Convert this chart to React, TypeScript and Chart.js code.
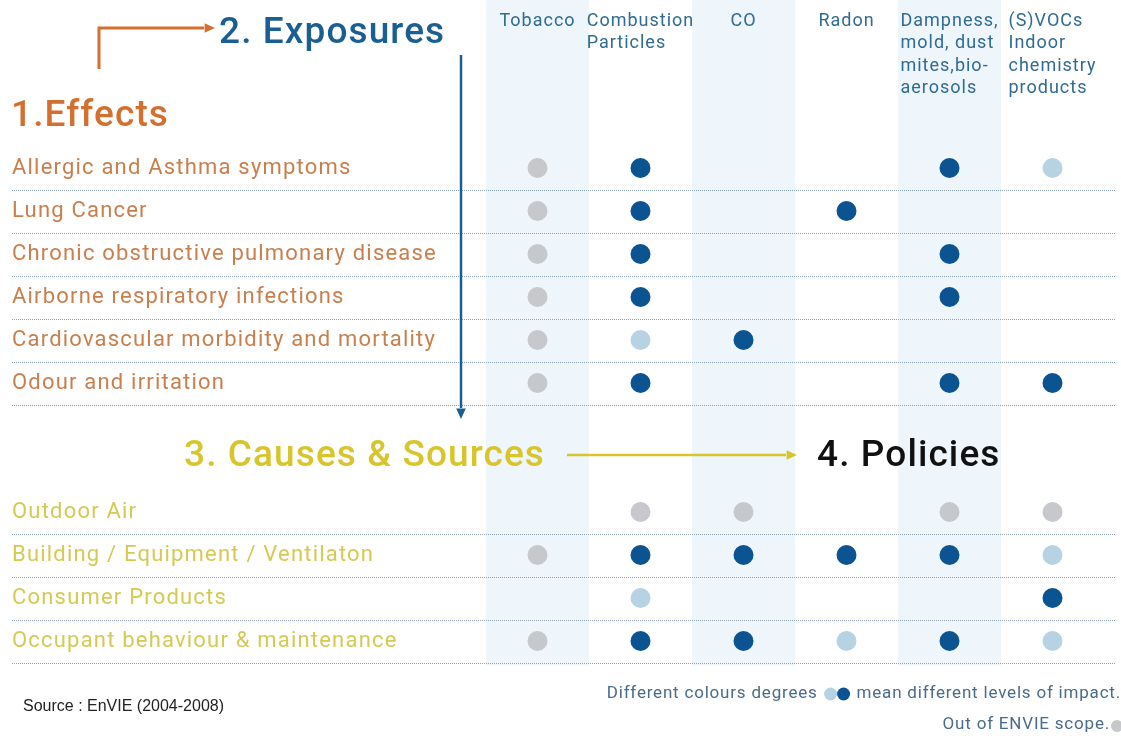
import React, { useEffect, useRef } from 'react';
import { Chart, registerables } from 'chart.js';

Chart.register(...registerables);

// ---------- data ----------
const exposureHeaders: string[][] = [
  ['Tobacco'],
  ['Combustion', 'Particles'],
  ['CO'],
  ['Radon'],
  ['Dampness,', 'mold, dust', 'mites,bio-', 'aerosols'],
  ['(S)VOCs', 'Indoor', 'chemistry', 'products'],
];
const exposureNames = exposureHeaders.map((l) => l.join(' '));

const effectLabels = [
  'Allergic and Asthma symptoms',
  'Lung Cancer',
  'Chronic obstructive pulmonary disease',
  'Airborne respiratory infections',
  'Cardiovascular morbidity and mortality',
  'Odour and irritation',
];
const causeLabels = [
  'Outdoor Air',
  'Building / Equipment / Ventilaton',
  'Consumer Products',
  'Occupant behaviour & maintenance',
];

// 0 = none, 1 = out of ENVIE scope, 2 = lower impact, 3 = higher impact
const effectLevels = [
  [1, 3, 0, 0, 3, 2],
  [1, 3, 0, 3, 0, 0],
  [1, 3, 0, 0, 3, 0],
  [1, 3, 0, 0, 3, 0],
  [1, 2, 3, 0, 0, 0],
  [1, 3, 0, 0, 3, 3],
];
const causeLevels = [
  [0, 1, 1, 0, 1, 1],
  [1, 3, 3, 3, 3, 2],
  [0, 2, 0, 0, 0, 3],
  [1, 3, 3, 2, 3, 2],
];

const spacerLabels = ['', ' '];
const rowLabels = [...effectLabels, ...spacerLabels, ...causeLabels];
const rowLevels = [...effectLevels, [], [], ...causeLevels];
const shadedColumns = [0, 2, 4];

// ---------- styles ----------
const C = {
  dark: '#0b5391',
  light: '#b7d2e3',
  gray: '#c7c8cc',
  band: '#eef5fb',
  sep: '#8ea3b7',
  orangeHead: '#d4702f',
  orangeLabel: '#c97f4d',
  blueHead: '#1b5e91',
  yellowHead: '#d8c52c',
  yellowLabel: '#d4ca52',
  headerBlue: '#2f6b93',
  footer: '#4a6b8a',
};
const FONT = 'Roboto';

function pointsFor(level: number) {
  const pts: { x: string; y: string }[] = [];
  rowLevels.forEach((row, r) =>
    row.forEach((v, c) => {
      if (v === level) pts.push({ x: exposureNames[c], y: rowLabels[r] });
    })
  );
  return pts;
}

function arrowHead(ctx: CanvasRenderingContext2D, x: number, y: number, dir: 'right' | 'down', size: number, color: string) {
  ctx.save();
  ctx.fillStyle = color;
  ctx.beginPath();
  if (dir === 'right') {
    ctx.moveTo(x, y);
    ctx.lineTo(x - size * 1.3, y - size * 0.6);
    ctx.lineTo(x - size * 1.3, y + size * 0.6);
  } else {
    ctx.moveTo(x, y);
    ctx.lineTo(x - size * 0.6, y - size * 1.3);
    ctx.lineTo(x + size * 0.6, y - size * 1.3);
  }
  ctx.closePath();
  ctx.fill();
  ctx.restore();
}

const infographicPlugin = {
  id: 'infographic',
  beforeDraw(chart: any) {
    const { ctx, chartArea } = chart;
    const xs = chart.scales.x;
    const ys = chart.scales.y;
    ctx.save();
    ctx.fillStyle = '#ffffff';
    ctx.fillRect(0, 0, chart.width, chart.height);
    const halfX = (xs.getPixelForValue(1) - xs.getPixelForValue(0)) / 2;
    ctx.fillStyle = C.band;
    shadedColumns.forEach((c) => {
      const cx = xs.getPixelForValue(c);
      ctx.fillRect(cx - halfX, 0, halfX * 2, chartArea.bottom + 3);
    });
    // dotted separators
    const halfY = (ys.getPixelForValue(1) - ys.getPixelForValue(0)) / 2;
    ctx.strokeStyle = C.sep;
    ctx.lineWidth = 1;
    ctx.setLineDash([1, 1]);
    rowLabels.forEach((lab, r) => {
      if (!lab.trim()) return;
      const y = Math.round(ys.getPixelForValue(r) + halfY) + 0.5;
      ctx.beginPath();
      ctx.moveTo(12, y);
      ctx.lineTo(1116, y);
      ctx.stroke();
    });
    ctx.restore();
    (ctx as any).letterSpacing = '1.2px';
  },
  afterDraw(chart: any) {
    const { ctx } = chart;
    const xs = chart.scales.x;
    ctx.save();
    ctx.textBaseline = 'alphabetic';
    ctx.textAlign = 'left';

    // headings
    (ctx as any).letterSpacing = '1.1px';
    ctx.font = `500 37px ${FONT}`;
    ctx.fillStyle = C.orangeHead;
    ctx.fillText('1.Effects', 11, 126);
    ctx.fillStyle = C.blueHead;
    ctx.fillText('2. Exposures', 219, 43);
    ctx.fillStyle = C.yellowHead;
    ctx.fillText('3. Causes & Sources', 184, 466);
    ctx.fillStyle = '#111111';
    ctx.fillText('4. Policies', 817, 466);

    // orange elbow arrow
    ctx.strokeStyle = C.orangeHead;
    ctx.lineWidth = 3;
    ctx.beginPath();
    ctx.moveTo(99, 69);
    ctx.lineTo(99, 28);
    ctx.lineTo(204, 28);
    ctx.stroke();
    arrowHead(ctx, 215, 28, 'right', 8, C.orangeHead);

    // blue vertical arrow
    ctx.strokeStyle = C.blueHead;
    ctx.lineWidth = 2.5;
    ctx.beginPath();
    ctx.moveTo(461, 55);
    ctx.lineTo(461, 408);
    ctx.stroke();
    arrowHead(ctx, 461, 419, 'down', 8, C.blueHead);

    // yellow arrow
    ctx.strokeStyle = C.yellowHead;
    ctx.lineWidth = 2.5;
    ctx.beginPath();
    ctx.moveTo(567, 455);
    ctx.lineTo(786, 455);
    ctx.stroke();
    arrowHead(ctx, 797, 455, 'right', 8, C.yellowHead);

    // column headers
    (ctx as any).letterSpacing = '1px';
    ctx.font = `400 18px ${FONT}`;
    ctx.fillStyle = C.headerBlue;
    ctx.textBaseline = 'middle';
    exposureHeaders.forEach((lines, c) => {
      const cx = xs.getPixelForValue(c);
      const w = Math.max(...lines.map((l) => ctx.measureText(l).width));
      const left = cx - w / 2;
      lines.forEach((l, i) => ctx.fillText(l, left, 21 + i * 22.5));
    });

    // footer legend
    (ctx as any).letterSpacing = '0.8px';
    ctx.font = `400 17px ${FONT}`;
    ctx.fillStyle = C.footer;
    ctx.textAlign = 'right';
    const t1 = 'mean different levels of impact.';
    ctx.fillText(t1, 1121, 694);
    const w1 = ctx.measureText(t1).width;
    const dotsRight = 1121 - w1 - 7;
    ctx.fillStyle = C.dark;
    ctx.beginPath();
    ctx.arc(dotsRight - 6, 694, 6.5, 0, Math.PI * 2);
    ctx.fill();
    ctx.fillStyle = C.light;
    ctx.beginPath();
    ctx.arc(dotsRight - 19, 694, 6.5, 0, Math.PI * 2);
    ctx.fill();
    ctx.fillStyle = C.footer;
    ctx.fillText('Different colours degrees', dotsRight - 32, 694);
    ctx.fillText('Out of ENVIE scope.', 1110, 725);
    ctx.fillStyle = C.gray;
    ctx.beginPath();
    ctx.arc(1117, 726, 6, 0, Math.PI * 2);
    ctx.fill();

    // source
    (ctx as any).letterSpacing = '0px';
    ctx.textAlign = 'left';
    ctx.fillStyle = '#222222';
    ctx.font = `400 16px "Liberation Sans", Arial, sans-serif`;
    ctx.fillText('Source : EnVIE (2004-2008)', 23, 707);
    ctx.restore();
  },
};

export default function App() {
  const ref = useRef<HTMLCanvasElement>(null);
  useEffect(() => {
    document.body.style.margin = '0';
    const canvas = ref.current!;
    const chart = new Chart(canvas, {
      type: 'scatter',
      data: {
        datasets: [
          { label: 'Higher impact', data: pointsFor(3), backgroundColor: C.dark },
          { label: 'Lower impact', data: pointsFor(2), backgroundColor: C.light },
          { label: 'Out of ENVIE scope', data: pointsFor(1), backgroundColor: C.gray },
        ].map((d) => ({ ...d, pointRadius: 10, pointHoverRadius: 10, borderWidth: 0, pointBorderWidth: 0 })) as any,
      },
      options: {
        animation: false,
        responsive: false,
        devicePixelRatio: 1,
        layout: { padding: { top: 146.5, bottom: 73.5, left: 12, right: 17 } },
        plugins: { legend: { display: false }, tooltip: { enabled: false } },
        events: [],
        scales: {
          x: {
            type: 'category',
            labels: exposureNames,
            offset: true,
            display: false,
          },
          y: {
            type: 'category',
            labels: rowLabels,
            offset: true,
            grid: { display: false },
            border: { display: false },
            ticks: {
              autoSkip: false,
              crossAlign: 'far',
              padding: 0,
              color: (ctx: any) => (ctx.index < effectLabels.length ? C.orangeLabel : C.yellowLabel),
              font: { family: FONT, size: 22 },
            },
            afterFit: (s: any) => {
              s.width = 474;
            },
          },
        },
      } as any,
      plugins: [infographicPlugin],
    });
    return () => chart.destroy();
  }, []);
  return <canvas ref={ref} width={1121} height={736} style={{ display: 'block', width: 1121, height: 736 }} />;
}
